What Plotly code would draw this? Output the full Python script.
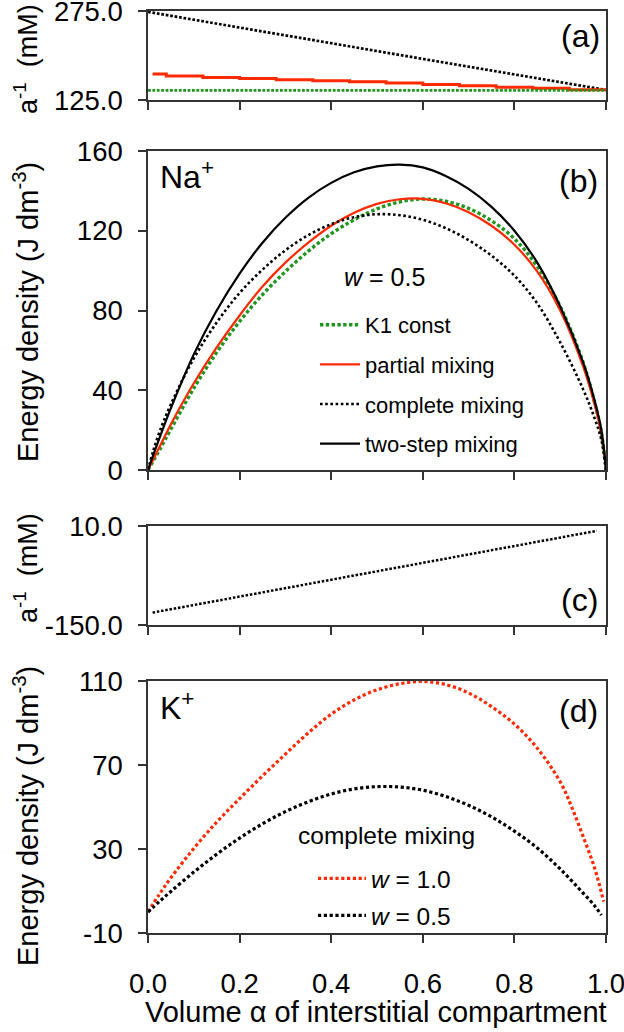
import plotly.graph_objects as go

# ---------------- data ----------------
# panel (a): a^-1 (mM) for Na+
x_a = [0.0, 0.1, 0.2, 0.3, 0.4, 0.5, 0.6, 0.7, 0.8, 0.9, 1.0]
a_complete = [273.5, 260.5, 247.3, 234.0, 220.8, 207.5, 194.2, 181.2, 168.5, 155.3, 142.0]
a_k1 = [141.2, 141.2, 141.2, 141.2, 141.2, 141.2, 141.2, 141.2, 141.2, 141.2, 141.2]
x_a_partial = [0.01, 0.04, 0.12, 0.2, 0.28, 0.36, 0.44, 0.52, 0.6, 0.68, 0.76, 0.84, 0.92, 1.0]
a_partial = [168.7, 165.3, 163.1, 161.4, 159.1, 157.5, 155.8, 153.5, 151.3, 149.1, 146.3, 144.6, 142.3, 141.5]

# panel (b): energy density, Na+, w = 0.5
x_b = [0, 0.01, 0.025, 0.05, 0.1, 0.15, 0.2, 0.25, 0.3, 0.35, 0.4, 0.45, 0.5,
       0.55, 0.6, 0.65, 0.7, 0.75, 0.8, 0.85, 0.9, 0.95, 0.975, 0.99, 1.0]
b_k1 = [0, 4, 10, 20.5, 41, 59, 74.5, 88, 99.5, 109.8, 118.5, 125.5, 131,
        134.5, 135.9, 134.8, 131.2, 125, 116, 102, 82, 54, 34, 18.5, 0]
b_partial = [0, 4.6, 11.5, 23, 43.5, 61.5, 77.5, 92, 104, 114, 122.5, 129, 133.5,
             135.8, 136, 133.8, 129.3, 122.5, 113, 99.5, 80, 52, 33, 18, 0]
b_complete = [0, 8.5, 19, 33, 56, 74, 88.8, 100.5, 110.2, 117.8, 123.3, 126.8, 128.3,
              127.8, 125.5, 121.3, 115.3, 107.5, 97.5, 83.5, 64, 40.5, 26, 15, 0]
b_twostep = [0, 6.5, 16, 31, 58, 80, 98.5, 114, 126.5, 136.5, 144, 149.3, 152.3,
             153.2, 151.8, 147.5, 141, 132, 120, 104, 82, 54, 35, 20, 0]

# panel (c): a^-1 (mM) for K+
x_c = [0.01, 0.1, 0.2, 0.3, 0.4, 0.5, 0.6, 0.7, 0.8, 0.9, 0.98]
c_complete = [-130, -117.8, -104.2, -91, -77.5, -63.8, -50, -36.5, -23, -9.5, 2.2]

# panel (d): energy density, K+, complete mixing
x_d_w10 = [0, 0.025, 0.05, 0.1, 0.15, 0.2, 0.25, 0.3, 0.35, 0.4, 0.45, 0.5, 0.55,
           0.6, 0.65, 0.7, 0.75, 0.8, 0.85, 0.9, 0.925, 0.95, 0.975, 0.995]
d_w10 = [0, 8.5, 16.3, 30.3, 42.8, 54, 64.8, 75.2, 85.3, 94.2, 101, 105.8, 108.7,
         109.8, 108.3, 104.3, 97.8, 89.5, 78, 62, 50, 36, 21, 5]
x_d_w05 = [0, 0.025, 0.05, 0.1, 0.15, 0.2, 0.25, 0.3, 0.35, 0.4, 0.45, 0.5, 0.55,
           0.6, 0.65, 0.7, 0.75, 0.8, 0.85, 0.9, 0.95, 0.975, 0.99]
d_w05 = [0, 5, 9.8, 19, 27.5, 35.2, 42, 47.8, 52.5, 56.2, 58.6, 59.7, 59.5,
         58, 55, 50.8, 45.3, 38.5, 30.5, 20.5, 9, 3, -1.5]

x_ticks = [0.0, 0.2, 0.4, 0.6, 0.8, 1.0]
x_ticktext = ["0.0", "0.2", "0.4", "0.6", "0.8", "1.0"]

# ---------------- style ----------------
FONT = "Liberation Sans, Arial, Helvetica, sans-serif"
RED = "#ff2a00"
GREEN = "#1e961e"
BLACK = "#000000"
AXC = "#333333"
SM = 1.0

fig = go.Figure()

# (a)
fig.add_trace(go.Scatter(x=x_a, y=a_complete, mode="lines", xaxis="x", yaxis="y",
                         line=dict(color=BLACK, width=2.7, dash="2.7px,1.8px"), showlegend=False))
fig.add_trace(go.Scatter(x=x_a_partial, y=a_partial, mode="lines", xaxis="x", yaxis="y",
                         line=dict(color=RED, width=3, shape="hv"), showlegend=False))
fig.add_trace(go.Scatter(x=x_a, y=a_k1, mode="lines", xaxis="x", yaxis="y",
                         line=dict(color=GREEN, width=2.8, dash="2.8px,1.6px"), showlegend=False))

# (b)
fig.add_trace(go.Scatter(x=x_b, y=b_k1, mode="lines", xaxis="x2", yaxis="y2", name="K1 const",
                         legendgroup="g1", legend="legend",
                         line=dict(color=GREEN, width=3.4, dash="3.4px,2.4px", shape="spline", smoothing=SM)))
fig.add_trace(go.Scatter(x=x_b, y=b_partial, mode="lines", xaxis="x2", yaxis="y2", name="partial mixing",
                         legendgroup="g2", legend="legend",
                         line=dict(color=RED, width=2.2, shape="spline", smoothing=SM)))
fig.add_trace(go.Scatter(x=x_b, y=b_complete, mode="lines", xaxis="x2", yaxis="y2", name="complete mixing",
                         legendgroup="g3", legend="legend",
                         line=dict(color=BLACK, width=2.6, dash="2.6px,2.6px", shape="spline", smoothing=SM)))
fig.add_trace(go.Scatter(x=x_b, y=b_twostep, mode="lines", xaxis="x2", yaxis="y2", name="two-step mixing",
                         legendgroup="g4", legend="legend",
                         line=dict(color=BLACK, width=2.2, shape="spline", smoothing=SM)))

# (c)
fig.add_trace(go.Scatter(x=x_c, y=c_complete, mode="lines", xaxis="x3", yaxis="y3",
                         line=dict(color=BLACK, width=2.5, dash="2.5px,1.8px"), showlegend=False))

# (d)
fig.add_trace(go.Scatter(x=x_d_w10, y=d_w10, mode="lines", xaxis="x4", yaxis="y4", name="<i>w</i> = 1.0",
                         legendgroup="h1", legend="legend2",
                         line=dict(color=RED, width=3.2, dash="3.2px,2.6px", shape="spline", smoothing=SM)))
fig.add_trace(go.Scatter(x=x_d_w05, y=d_w05, mode="lines", xaxis="x4", yaxis="y4", name="<i>w</i> = 0.5",
                         legendgroup="h2", legend="legend2",
                         line=dict(color=BLACK, width=3.2, dash="3.2px,2.6px", shape="spline", smoothing=SM)))

# ---------------- layout ----------------
FW, FH = 624, 1032
TOP, BOT = 11, 933      # plot-area top/bottom in px
L, R = 148, 606         # plot-area left/right in px
H = BOT - TOP
W = R - L

def py(ypx):
    return (BOT - ypx) / H

def px_(xpx):
    return (xpx - L) / W

def xax(anchor, labels):
    return dict(domain=[0, 1], range=[0, 1], anchor=anchor, tickmode="array",
                tickvals=x_ticks, ticktext=x_ticktext, showticklabels=labels,
                ticks="outside", ticklen=8, tickwidth=1.5, tickcolor=AXC,
                showline=True, linecolor=AXC, linewidth=1.5, mirror=True,
                showgrid=False, zeroline=False, automargin=False,
                ticklabeloverflow="allow",
                tickfont=dict(size=27.5, color="black", family=FONT),
                ticklabelstandoff=17)

def yax(anchor, dom, rng, tv, tt):
    return dict(domain=dom, range=rng, anchor=anchor, tickmode="array",
                tickvals=tv, ticktext=tt, ticks="outside", ticklen=8, tickwidth=1.5,
                tickcolor=AXC, showline=True, linecolor=AXC, linewidth=1.5, mirror=True,
                showgrid=False, zeroline=False, automargin=False,
                ticklabeloverflow="allow",
                tickfont=dict(size=27.5, color="black", family=FONT),
                ticklabelstandoff=10)

a_tv = [125, 275]
a_tt = ["125.0", "275.0"]
b_tv = [0, 40, 80, 120, 160]
b_tt = ["0", "40", "80", "120", "160"]
c_tv = [-150, 10]
c_tt = ["-150.0", "10.0"]
d_tv = [-10, 30, 70, 110]
d_tt = ["-10", "30", "70", "110"]

fig.update_layout(
    width=FW, height=FH,
    margin=dict(l=L, r=FW - R, t=TOP, b=FH - BOT, pad=0, autoexpand=False),
    paper_bgcolor="white", plot_bgcolor="white",
    font=dict(family=FONT, color="black"),
    xaxis=xax("y", False), xaxis2=xax("y2", False), xaxis3=xax("y3", False), xaxis4=xax("y4", True),
    yaxis=yax("x", [py(100), 1.0], [125, 275], a_tv, a_tt),
    yaxis2=yax("x2", [py(470), py(151)], [0, 160], b_tv, b_tt),
    yaxis3=yax("x3", [py(625), py(526)], [-150, 10], c_tv, c_tt),
    yaxis4=yax("x4", [0, py(681)], [-10, 110], d_tv, d_tt),
    legend=dict(x=px_(315), y=py(304), xanchor="left", yanchor="top",
                font=dict(size=22, family=FONT, color="black"), bgcolor="rgba(0,0,0,0)",
                traceorder="grouped", tracegroupgap=8, itemwidth=40),
    legend2=dict(x=px_(313), y=py(856), xanchor="left", yanchor="top",
                 font=dict(size=24.5, family=FONT, color="black"), bgcolor="rgba(0,0,0,0)",
                 traceorder="grouped", tracegroupgap=2, itemwidth=48),
)

ann = []
def label(text, xpx, ypx, size, xanchor="left", angle=0):
    ann.append(dict(text=text, x=px_(xpx), y=py(ypx), xref="paper", yref="paper",
                    xanchor=xanchor, yanchor="middle", showarrow=False, textangle=angle,
                    font=dict(size=size, family=FONT, color="black")))

label("(a)", 602, 36, 32, "right")
label("Na<sup>+</sup>", 158, 175, 32, "left")
label("(b)", 600, 181, 32, "right")
label("(c)", 600, 600, 32, "right")
label("K<sup>+</sup>", 158, 706, 32, "left")
label("(d)", 600, 711, 32, "right")
label("<i>w</i> = 0.5", 342, 277, 25, "left")
label("complete mixing", 296, 835, 24.5, "left")
label("a<sup>-1</sup>  (mM)", 26, 59, 27, "center", -90)
label("Energy density (J dm<sup>-3</sup>)", 26, 312, 29, "center", -90)
label("a<sup>-1</sup>  (mM)", 26, 568, 27, "center", -90)
label("Energy density (J dm<sup>-3</sup>)", 26, 816, 29, "center", -90)
label("Volume \u03b1 of interstitial compartment", 376, 1012, 29, "center")
fig.update_layout(annotations=ann)

# remove the browser's default 8px page margin so the figure sits at (0, 0)
fig.write_html("out.html", config={"displayModeBar": False},
               post_script="document.body.style.margin='0px';")
